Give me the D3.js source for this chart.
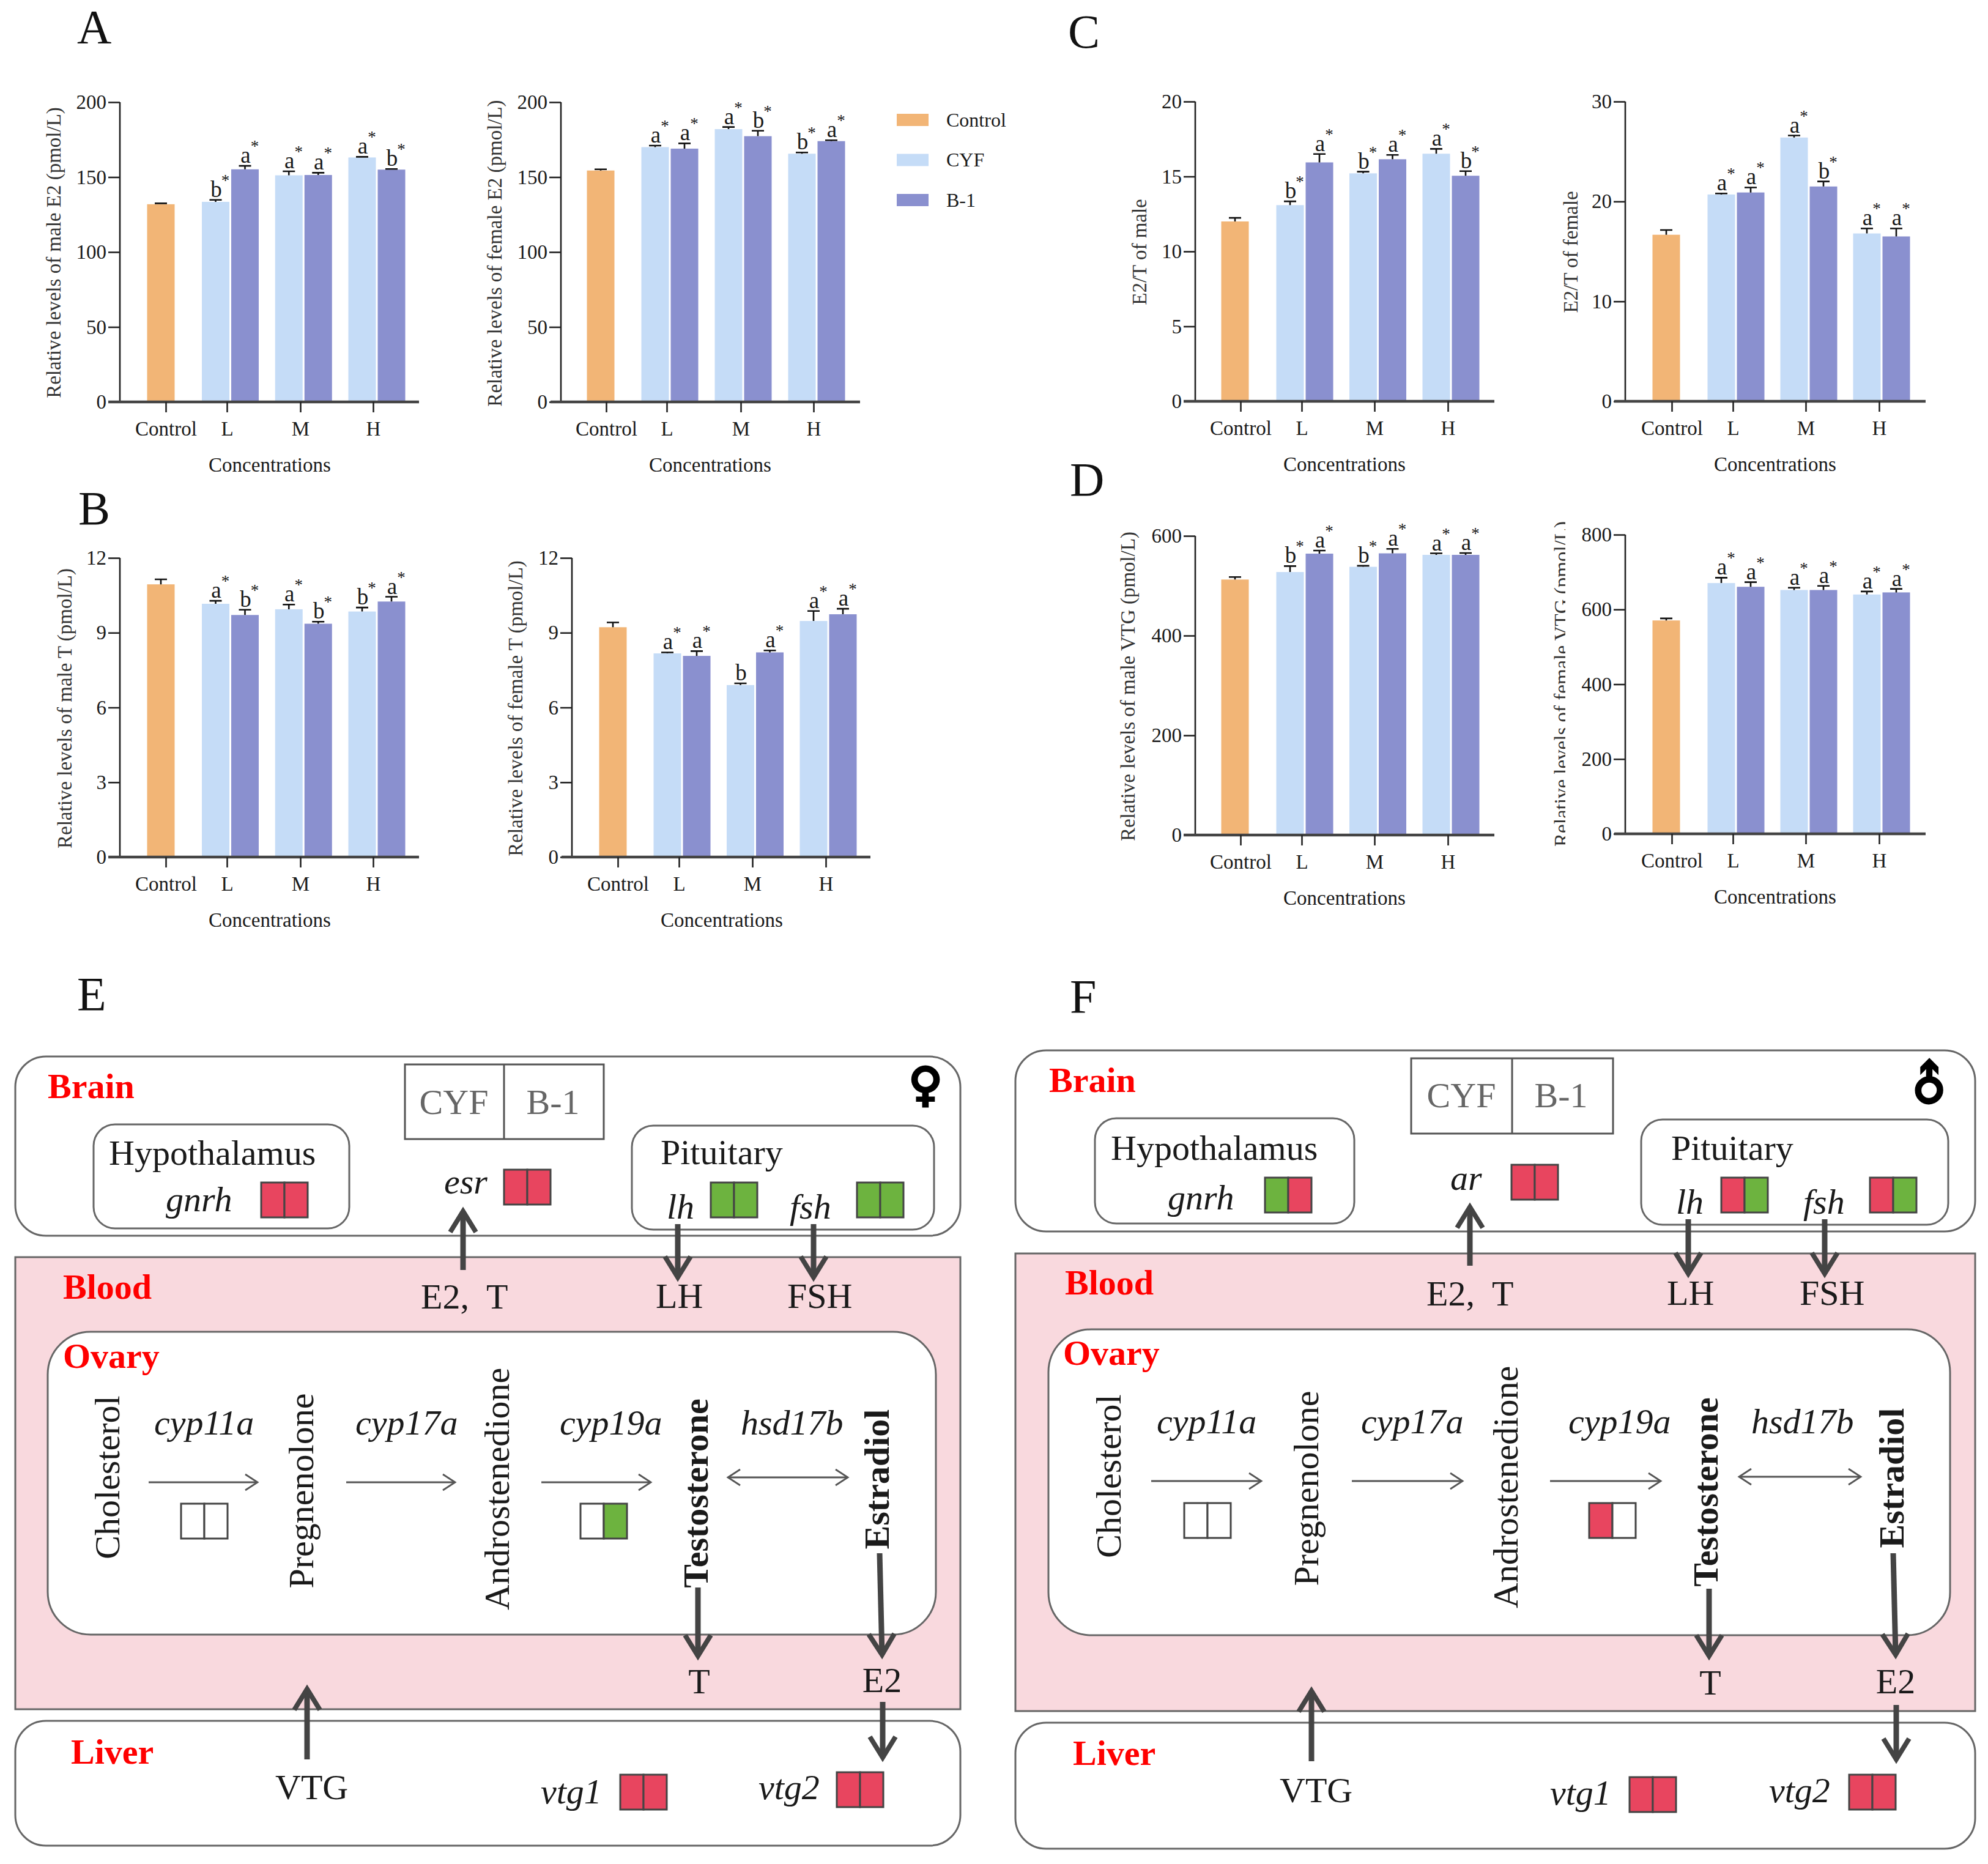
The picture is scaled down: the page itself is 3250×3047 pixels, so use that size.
<!DOCTYPE html>
<html><head><meta charset="utf-8">
<script src="https://cdn.jsdelivr.net/npm/d3@7"></script>
<style>
html,body{margin:0;padding:0;background:#fff}
svg{display:block}
text{font-family:"Liberation Serif","Times New Roman",serif;white-space:pre}
</style></head><body><svg id="fig" width="3250" height="3047" viewBox="0 0 3250 3047"></svg>
<script>
// ---------- data ----------
const categories = ["Control","L","M","H"];
const groups = ["L","M","H"];
const seriesNames = ["Control","CYF","B-1"];
const seriesColors = ["#f2b576","#c5dcf7","#8a90cf"];

// values in each array: Control, L-CYF, L-B1, M-CYF, M-B1, H-CYF, H-B1
const maleE2Mean   = [131.9,133.5,155.2,151.2,151.4,163.1,155.0];
const maleE2Upper  = [132.5,134.8,157.5,153.9,152.9,163.5,155.4];
const maleE2Sig    = ["","b*","a*","a*","a*","a*","b*"];
const femaleE2Mean = [154.4,170.0,169.0,182.0,177.3,165.6,174.0];
const femaleE2Upper= [155.2,171.0,172.5,183.4,180.9,166.4,174.6];
const femaleE2Sig  = ["","a*","a*","a*","b*","b*","a*"];
const maleTMean    = [10.94,10.16,9.71,9.94,9.36,9.85,10.25];
const maleTUpper   = [11.14,10.28,9.92,10.13,9.44,10.01,10.44];
const maleTSig     = ["","a*","b*","a*","b*","b*","a*"];
const femaleTMean  = [9.22,8.17,8.07,6.90,8.21,9.47,9.74];
const femaleTUpper = [9.41,8.21,8.26,6.97,8.29,9.87,9.96];
const femaleTSig   = ["","a*","a*","b","a*","a*","a*"];
const maleRatioMean   = [12.0,13.09,15.94,15.21,16.15,16.52,15.05];
const maleRatioUpper  = [12.24,13.34,16.5,15.32,16.44,16.84,15.36];
const maleRatioSig    = ["","b*","a*","b*","a*","a*","b*"];
const femaleRatioMean = [16.67,20.7,20.9,26.4,21.5,16.8,16.5];
const femaleRatioUpper= [17.14,20.8,21.4,26.6,22.0,17.3,17.3];
const femaleRatioSig  = ["","a*","a*","a*","b*","a*","a*"];
const maleVtgMean   = [512.5,527.5,564.4,538,565,562,562];
const maleVtgUpper  = [517.5,539.4,570.6,540,574,565,565.7];
const maleVtgSig    = ["","b*","a*","b*","a*","a*","a*"];
const femaleVtgMean = [570.6,670.6,660.6,652,652,640,645.6];
const femaleVtgUpper= [576,684.8,673,658,663,648,655];
const femaleVtgSig  = ["","a*","a*","a*","a*","a*","a*"];

const ticksE2 = [0,50,100,150,200];
const ticksT = [0,3,6,9,12];
const ticksMaleRatio = [0,5,10,15,20];
const ticksFemaleRatio = [0,10,20,30];
const ticksMaleVtg = [0,200,400,600];
const ticksFemaleVtg = [0,200,400,600,800];

// ---------- panel layout ----------
const panels = [
 {mean:maleE2Mean,upper:maleE2Upper,sig:maleE2Sig,ticks:ticksE2,title:"Relative levels of male E2 (pmol/L)",ax:196,top:167,base:657,l:177,r:685,tk:[271,371,491,610],c0:263,gc:[376.5,616],tx:87,ty:413,cx:441},
 {mean:femaleE2Mean,upper:femaleE2Upper,sig:femaleE2Sig,ticks:ticksE2,title:"Relative levels of female E2 (pmol/L)",ax:917,top:167,base:657,l:900,r:1406,tk:[991,1090,1211,1330],c0:982,gc:[1095,1335],tx:808,ty:414,cx:1161},
 {mean:maleTMean,upper:maleTUpper,sig:maleTSig,ticks:ticksT,title:"Relative levels of male T (pmol/L)",ax:196,top:912,base:1401,l:177,r:685,tk:[271,371,491,610],c0:263,gc:[376.5,616],tx:105,ty:1158,cx:441},
 {mean:femaleTMean,upper:femaleTUpper,sig:femaleTSig,ticks:ticksT,title:"Relative levels of female T (pmol/L)",ax:935,top:912,base:1401,l:918,r:1423,tk:[1010,1110,1230,1350],c0:1002,gc:[1115,1354],tx:842,ty:1158,cx:1180},
 {mean:maleRatioMean,upper:maleRatioUpper,sig:maleRatioSig,ticks:ticksMaleRatio,title:"E2/T of male",ax:1954,top:166,base:656,l:1935,r:2443,tk:[2028,2128,2247,2367],c0:2019,gc:[2133,2372],tx:1862,ty:412,cx:2198},
 {mean:femaleRatioMean,upper:femaleRatioUpper,sig:femaleRatioSig,ticks:ticksFemaleRatio,title:"E2/T of female",ax:2657,top:166,base:656,l:2639,r:3148,tk:[2733,2833,2952,3072],c0:2724,gc:[2838,3076],tx:2567,ty:412,cx:2902},
 {mean:maleVtgMean,upper:maleVtgUpper,sig:maleVtgSig,ticks:ticksMaleVtg,title:"Relative levels of male VTG (pmol/L)",ax:1954,top:876,base:1365,l:1935,r:2443,tk:[2028,2128,2247,2367],c0:2019,gc:[2133,2372],tx:1843,ty:1122,cx:2198},
 {mean:femaleVtgMean,upper:femaleVtgUpper,sig:femaleVtgSig,ticks:ticksFemaleVtg,title:"Relative levels of female VTG (pmol/L)",ax:2657,top:874,base:1363,l:2639,r:3148,tk:[2733,2833,2952,3072],c0:2724,gc:[2838,3076],tx:2552,ty:1118,cx:2902,clip:[2520,852,39,535]}
];
const svg = d3.select("#fig");
const INK = "#1a1a1a", FS = 33, BARW = 45, PITCH = 48;

panels.forEach((p,pi)=>{
  const g = svg.append("g").attr("class","panel");
  const y = d3.scaleLinear().domain([0,d3.max(p.ticks)]).range([p.base,p.top]);
  const tickX = d3.scaleOrdinal().domain(categories).range(p.tk);
  const groupX = d3.scalePoint().domain(groups).range(p.gc);
  const inner = d3.scaleBand().domain(["CYF","B-1"]).range([-PITCH,PITCH]);
  const items = [{cx:p.c0,i:0,color:seriesColors[0]}];
  groups.forEach((gr,k)=>["CYF","B-1"].forEach((s,j)=>{
    items.push({cx:groupX(gr)+inner(s)+inner.bandwidth()/2,i:1+k*2+j,color:seriesColors[1+j]});
  }));
  g.selectAll("rect.bar").data(items).join("rect").attr("class","bar")
    .attr("x",d=>d.cx-BARW/2).attr("width",BARW)
    .attr("y",d=>y(p.mean[d.i])).attr("height",d=>p.base-y(p.mean[d.i]))
    .attr("fill",d=>d.color);
  g.selectAll("path.err").data(items).join("path").attr("class","err")
    .attr("d",d=>`M${d.cx},${y(p.mean[d.i])}V${y(p.upper[d.i])}M${d.cx-10},${y(p.upper[d.i])}H${d.cx+10}`)
    .attr("stroke","#111").attr("stroke-width",2.6).attr("fill","none");
  g.selectAll("text.let").data(items.filter(d=>p.sig[d.i])).join("text").attr("class","let")
    .attr("x",d=>d.cx+1).attr("y",d=>y(p.upper[d.i])-5)
    .attr("text-anchor","middle").attr("font-size",37).style("fill",INK).text(d=>p.sig[d.i][0]);
  g.selectAll("text.star").data(items.filter(d=>p.sig[d.i].length>1)).join("text").attr("class","star")
    .attr("x",d=>d.cx+16).attr("y",d=>y(p.upper[d.i])-23)
    .attr("text-anchor","middle").attr("font-size",27).style("fill",INK).text("*");
  const ya = g.append("g").attr("transform",`translate(${p.ax},0)`)
    .call(d3.axisLeft(y).tickValues(p.ticks).tickSize(19).tickPadding(3));
  ya.selectAll("path").attr("d",`M0,${p.top}V${p.base}`).attr("stroke","#222").attr("stroke-width",2.6);
  ya.selectAll("line").attr("stroke","#222").attr("stroke-width",2.6);
  ya.selectAll("text").attr("font-size",FS).attr("font-family","Liberation Serif").style("fill",INK);
  const xa = g.append("g").attr("transform",`translate(0,${p.base})`)
    .call(d3.axisBottom(tickX).tickSize(17).tickPadding(15));
  xa.select("path").attr("d",`M${p.l},0H${p.r}`).attr("stroke","#444").attr("stroke-width",4.5);
  xa.selectAll("line").attr("stroke","#222").attr("stroke-width",2.6);
  xa.selectAll("text").attr("font-size",FS).attr("font-family","Liberation Serif").style("fill",INK);
  g.append("text").attr("x",p.cx).attr("y",p.base+114).attr("text-anchor","middle")
    .attr("font-size",FS).style("fill",INK).text("Concentrations");
  const t = g.append("text").attr("transform",`translate(${p.tx},${p.ty}) rotate(-90)`)
    .attr("text-anchor","middle").attr("dy","0.35em").attr("font-size",FS).style("fill","#333").text(p.title);
  if(p.clip){
    svg.append("clipPath").attr("id","clip"+pi).append("rect")
      .attr("x",p.clip[0]).attr("y",p.clip[1]).attr("width",p.clip[2]).attr("height",p.clip[3]);
    const w = g.append("g").attr("clip-path",`url(#clip${pi})`);
    w.node().appendChild(t.node());
  }
});

// legend
const legendY = d3.scalePoint().domain(seriesNames).range([196,327]);
const lg = svg.append("g");
lg.selectAll("rect").data(seriesNames).join("rect")
  .attr("x",1466).attr("width",52).attr("y",d=>legendY(d)-10).attr("height",20)
  .attr("fill",(d,i)=>seriesColors[i]);
lg.selectAll("text").data(seriesNames).join("text")
  .attr("x",1547).attr("y",d=>legendY(d)).attr("dy","0.33em").attr("font-size",FS-1).style("fill",INK).text(d=>d);

// panel letters
const panelLetters = [["A",126,70],["B",128,857],["C",1746,78],["D",1749,810],["E",126,1651],["F",1749,1655]];
svg.append("g").selectAll("text").data(panelLetters).join("text")
  .attr("x",d=>d[1]).attr("y",d=>d[2]).attr("font-size",78).style("fill","#111").text(d=>d[0]);

// ---------- pathway diagrams ----------
const R="#e8455f", G="#6db33f", W="#ffffff";
const diagramE = {
 frames:[[25,1727,1545,293,50],[153,1838,418,170,35],[1033,1840,494,170,35]],
 blood:[25,2055,1545,739], ovary:[78,2177,1452,495,70], liver:[25,2813,1545,204,50],
 key:[662,1740,325,122,824], keyT:[[742,1821],[904,1821]],
 red:[["Brain",78,1795],["Blood",103,2123],["Ovary",103,2236],["Liver",116,2883]],
 plain:[["Hypothalamus",178,1904],["Pituitary",1080,1903],["E2,  T",688,2139],["LH",1072,2138],["FSH",1287,2138],["VTG",450,2941]],
 mid:[["T",1143,2768],["E2",1442,2766]],
 ital:[["gnrh",271,1980],["esr",726,1951],["lh",1090,1992],["fsh",1291,1992],["cyp11a",252,2345],["cyp17a",581,2345],["cyp19a",915,2345],["hsd17b",1211,2345],["vtg1",884,2948],["vtg2",1240,2941]],
 rot:[["Cholesterol",176,2415,0],["Pregnenolone",493,2437,0],["Androstenedione",813,2434,0],["Testosterone",1138,2441,1],["Estradiol",1434,2418,1]],
 cells:[[427,1933,R,R],[824,1912,R,R],[1162,1933,G,G],[1401,1933,G,G],[296,2458,W,W],[949,2458,W,G],[1014,2901,R,R],[1368,2897,R,R]],
 thick:[[757,2076,757,1980],[1108,2001,1108,2088],[1330,2001,1330,2088],[1141,2595,1141,2707],[1438,2539,1442,2705],[502,2876,502,2761],[1443,2782,1443,2873]],
 thin:[[243,2423,421,2423,0],[566,2423,744,2423,0],[885,2423,1064,2423,0],[1190,2415,1386,2415,1]],
 sym:["\u2640",1513,1772,0]
};
const diagramF = {
 frames:[[1660,1717,1569,296,50],[1790,1828,424,172,35],[2683,1830,502,172,35]],
 blood:[1660,2049,1569,748], ovary:[1714,2173,1474,500,70], liver:[1660,2816,1569,206,50],
 key:[2307,1730,330,123,2472], keyT:[[2389,1810],[2552,1810]],
 red:[["Brain",1715,1785],["Blood",1741,2116],["Ovary",1738,2231],["Liver",1754,2885]],
 plain:[["Hypothalamus",1816,1896],["Pituitary",2732,1896],["E2,  T",2332,2134],["LH",2725,2133],["FSH",2942,2133],["VTG",2092,2946]],
 mid:[["T",2796,2770],["E2",3099,2768]],
 ital:[["gnrh",1909,1977],["ar",2371,1945],["lh",2740,1984],["fsh",2948,1984],["cyp11a",1891,2343],["cyp17a",2225,2343],["cyp19a",2564,2343],["hsd17b",2863,2343],["vtg1",2534,2950],["vtg2",2892,2946]],
 rot:[["Cholesterol",1813,2413,0],["Pregnenolone",2136,2433,0],["Androstenedione",2462,2431,0],["Testosterone",2789,2439,1],["Estradiol",3093,2416,1]],
 cells:[[2068,1925,G,R],[2471,1904,R,R],[2814,1925,R,G],[3057,1925,R,G],[1936,2457,W,W],[2598,2457,R,W],[2664,2905,R,R],[3023,2901,R,R]],
 thick:[[2403,2069,2403,1973],[2760,1993,2760,2082],[2983,1993,2983,2082],[2794,2597,2794,2707],[3095,2539,3099,2705],[2144,2879,2144,2764],[3100,2787,3100,2876]],
 thin:[[1882,2421,2062,2421,0],[2210,2421,2391,2421,0],[2534,2421,2715,2421,0],[2843,2414,3042,2414,1]],
 sym:["\u2642",3153,1772,-45]
};
const LS = 58, EDGE="#666";

function chevron(g,x2,y2,ang,wing,len,w,col){
  const px=-Math.sin(ang),py=Math.cos(ang),ux=Math.cos(ang),uy=Math.sin(ang);
  g.append("path").attr("d",`M${x2-ux*len+px*wing},${y2-uy*len+py*wing}L${x2},${y2}L${x2-ux*len-px*wing},${y2-uy*len-py*wing}`)
   .attr("fill","none").attr("stroke",col).attr("stroke-width",w).attr("stroke-linejoin","miter");
}
function drawDiagram(D){
  const g=svg.append("g");
  const round=(b,fill)=>g.append("rect").attr("x",b[0]).attr("y",b[1]).attr("width",b[2]).attr("height",b[3]).attr("rx",b[4]||0).attr("ry",b[4]||0).attr("fill",fill).attr("stroke",EDGE).attr("stroke-width",3);
  round(D.frames[0],"#fff");
  round(D.liver,"#fff");
  round(D.blood,"#f9d9de");
  round(D.ovary,"#fff");
  round(D.frames[1],"#fff"); round(D.frames[2],"#fff");
  g.append("rect").attr("x",D.key[0]).attr("y",D.key[1]).attr("width",D.key[2]).attr("height",D.key[3]).attr("fill","#fff").attr("stroke","#555").attr("stroke-width",3);
  g.append("line").attr("x1",D.key[4]).attr("x2",D.key[4]).attr("y1",D.key[1]).attr("y2",D.key[1]+D.key[3]).attr("stroke","#555").attr("stroke-width",3);
  ["CYF","B-1"].forEach((t,i)=>g.append("text").attr("x",D.keyT[i][0]).attr("y",D.keyT[i][1]).attr("text-anchor","middle").attr("font-size",LS).style("fill","#666").text(t));
  D.cells.forEach(c=>{
    const cw=38,ch=57;
    [c[2],c[3]].forEach((col,i)=>g.append("rect").attr("x",c[0]+i*cw).attr("y",c[1]).attr("width",cw).attr("height",ch).attr("fill",col).attr("stroke","#444").attr("stroke-width",3));
  });
  D.thin.forEach(a=>{
    g.append("line").attr("x1",a[0]).attr("y1",a[1]).attr("x2",a[2]).attr("y2",a[3]).attr("stroke","#555").attr("stroke-width",2.8);
    chevron(g,a[2],a[3],0,13,20,2.8,"#555");
    if(a[4]) chevron(g,a[0],a[1],Math.PI,13,20,2.8,"#555");
  });
  D.thick.forEach(a=>{
    const ang=Math.atan2(a[3]-a[1],a[2]-a[0]);
    g.append("line").attr("x1",a[0]).attr("y1",a[1]).attr("x2",a[2]).attr("y2",a[3]).attr("stroke","#444").attr("stroke-width",9);
    chevron(g,a[2],a[3],ang,21,34,8,"#444");
  });
  D.red.forEach(t=>g.append("text").attr("x",t[1]).attr("y",t[2]).attr("font-size",LS).attr("font-weight","bold").style("fill","#f00").text(t[0]));
  D.plain.forEach(t=>g.append("text").attr("x",t[1]).attr("y",t[2]).attr("font-size",LS).style("fill",INK).text(t[0]));
  D.mid.forEach(t=>g.append("text").attr("x",t[1]).attr("y",t[2]).attr("text-anchor","middle").attr("font-size",LS).style("fill",INK).text(t[0]));
  D.ital.forEach(t=>g.append("text").attr("x",t[1]).attr("y",t[2]).attr("font-size",LS).attr("font-style","italic").style("fill",INK).text(t[0]));
  D.rot.forEach(t=>g.append("text").attr("transform",`translate(${t[1]},${t[2]}) rotate(-90)`).attr("text-anchor","middle").attr("dy","0.33em").attr("font-size",LS).attr("font-weight",t[3]?"bold":"normal").style("fill",INK).text(t[0]));
  g.append("text").attr("transform",`translate(${D.sym[1]},${D.sym[2]}) rotate(${D.sym[3]})`)
   .attr("text-anchor","middle").attr("dy","0.36em").attr("font-size",76).attr("font-weight","bold")
   .style("font-family","DejaVu Sans").style("fill","#000").style("stroke","#000").style("stroke-width",4).text(D.sym[0]);
}
drawDiagram(diagramE);
drawDiagram(diagramF);
</script></body></html>
